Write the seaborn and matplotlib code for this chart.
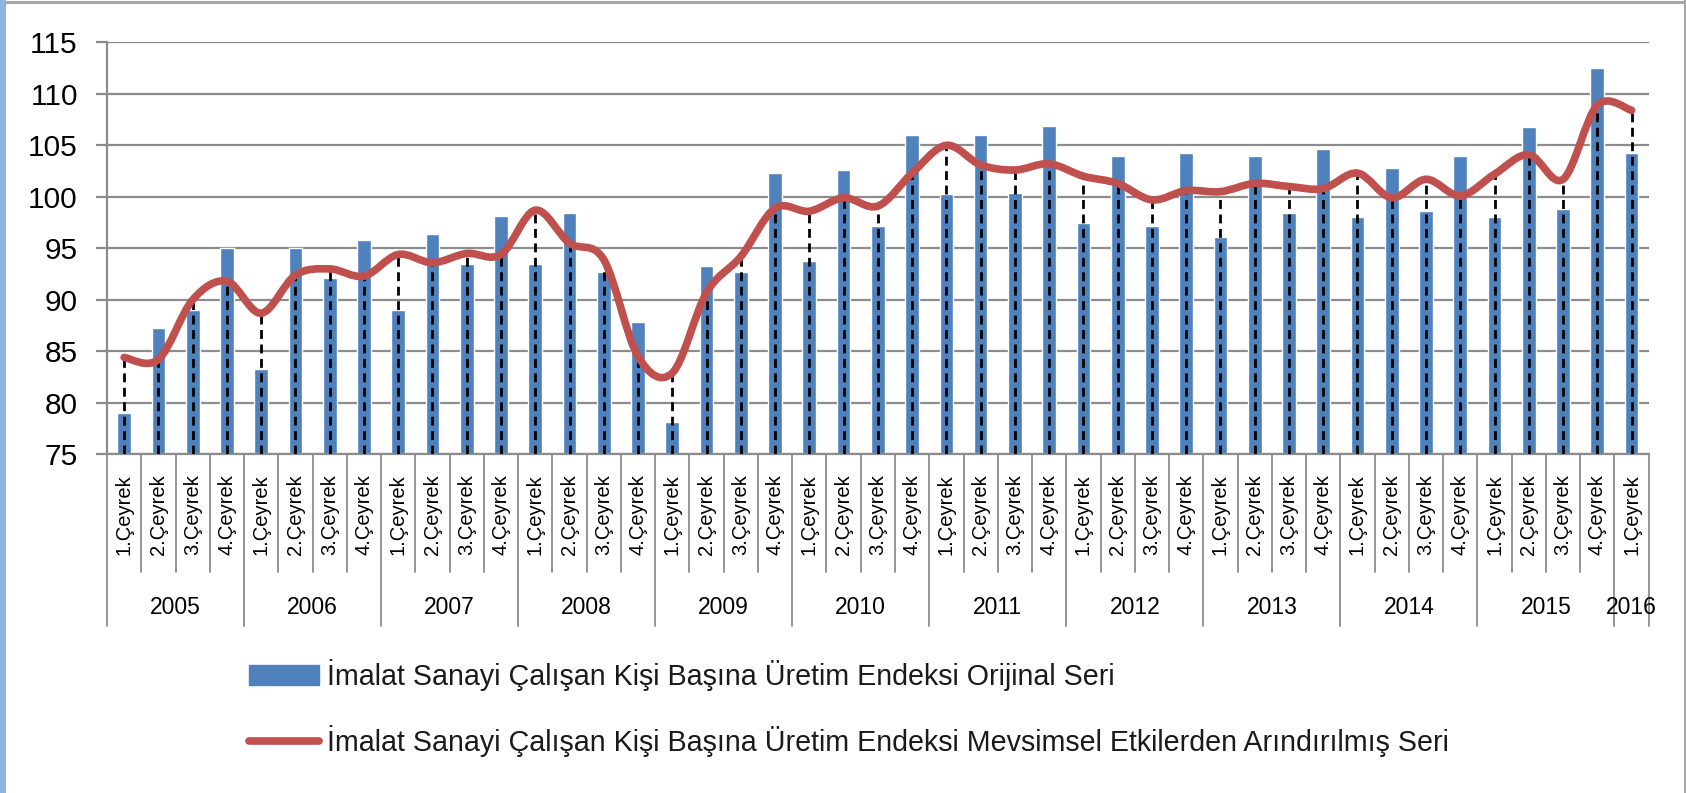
import numpy as np
import pandas as pd
import matplotlib
matplotlib.use("Agg")
import matplotlib.pyplot as plt
import matplotlib.transforms as mtransforms
import seaborn as sns
from matplotlib.path import Path
from matplotlib.patches import PathPatch, Patch, Rectangle
from matplotlib.lines import Line2D

# Data (2005 Q1 .. 2016 Q1)
YEARS = [2005, 2006, 2007, 2008, 2009, 2010, 2011, 2012, 2013, 2014, 2015, 2016]
QUARTER_LABELS = ["1.Çeyrek", "2.Çeyrek", "3.Çeyrek", "4.Çeyrek"]
ORIGINAL = [79.0, 87.3, 89.0, 95.0,
            83.3, 95.0, 92.1, 95.8,
            89.0, 96.4, 93.5, 98.1,
            93.5, 98.4, 92.7, 87.8,
            78.1, 93.3, 92.7, 102.3,
            93.8, 102.6, 97.2, 106.0,
            100.3, 106.0, 100.4, 106.9,
            97.5, 104.0, 97.2, 104.3,
            96.1, 104.0, 98.4, 104.6,
            98.0, 102.8, 98.6, 104.0,
            98.0, 106.8, 98.8, 112.5,
            104.3]
ADJUSTED = [84.4, 84.2, 90.0, 91.8,
            88.7, 92.4, 93.0, 92.3,
            94.4, 93.6, 94.5, 94.4,
            98.7, 95.5, 93.9, 84.5,
            82.9, 90.7, 94.2, 98.9,
            98.6, 99.9, 99.1, 102.3,
            105.0, 103.1, 102.6, 103.2,
            102.0, 101.3, 99.7, 100.6,
            100.5, 101.3, 101.0, 100.8,
            102.3, 99.9, 101.7, 100.1,
            102.2, 104.1, 101.7, 108.9,
            108.4]
LABEL_ORIG = "İmalat Sanayi Çalışan Kişi Başına Üretim Endeksi Orijinal Seri"
LABEL_ADJ = "İmalat Sanayi Çalışan Kişi Başına Üretim Endeksi Mevsimsel Etkilerden Arındırılmış Seri"

BLUE = "#4F81BD"
RED = "#C0504D"
GRAY = "#8C8C8C"

periods = [(y, q) for y in YEARS for q in range(1, 5)][:len(ORIGINAL)]
df = pd.DataFrame({
    "donem": [f"{y}-{q}" for y, q in periods],
    "yil": [y for y, _ in periods],
    "ceyrek": [q for _, q in periods],
    "orijinal": ORIGINAL,
    "arindirilmis": ADJUSTED,
})


def smooth_path(xs, ys):
    # Excel-style smoothed line: Catmull-Rom segments as cubic beziers
    pts = np.column_stack([xs, ys]).astype(float)
    n = len(pts)
    verts = [pts[0]]
    codes = [Path.MOVETO]
    for i in range(n - 1):
        p0 = pts[max(i - 1, 0)]
        p1 = pts[i]
        p2 = pts[i + 1]
        p3 = pts[min(i + 2, n - 1)]
        verts += [p1 + (p2 - p0) / 6, p2 - (p3 - p1) / 6, p2]
        codes += [Path.CURVE4] * 3
    return Path(verts, codes)


sns.set_style("white")
plt.rcParams["font.family"] = ["Liberation Sans", "DejaVu Sans"]

fig = plt.figure(figsize=(16.86, 7.93), dpi=100)
ax = fig.add_axes([107 / 1686, 1 - 454.3 / 793, (1648.7 - 107) / 1686, (454.3 - 42.3) / 793])

sns.barplot(data=df, x="donem", y="orijinal", color=BLUE, width=0.4,
            saturation=1, ax=ax, zorder=2)

x = np.arange(len(df))
ax.vlines(x, 75, df["arindirilmis"], colors="black", linewidth=2.0,
          linestyles=(0, (3.2, 2.0)), zorder=3)
ax.add_patch(PathPatch(smooth_path(x, df["arindirilmis"]), facecolor="none",
                       edgecolor=RED, linewidth=5.5, capstyle="round",
                       joinstyle="round", zorder=4))

ax.set_ylim(75, 115)
ax.set_xlim(-0.5, len(df) - 0.5)
ax.set_yticks(range(75, 116, 5))
ax.set_xticks([])
ax.set_xlabel("")
ax.set_ylabel("")
ax.set_axisbelow(True)
ax.yaxis.grid(True, color=GRAY, linewidth=1.6)
ax.tick_params(axis="y", length=8, width=1.6, color=GRAY, pad=13,
               labelsize=21.5, labelcolor="black", left=True)
for side in ["top", "right"]:
    ax.spines[side].set_visible(False)
for side in ["left", "bottom"]:
    ax.spines[side].set_color(GRAY)
    ax.spines[side].set_linewidth(1.6)

# Multi-level category axis
trans = mtransforms.blended_transform_factory(ax.transData, ax.transAxes)
ax_h = 454.3 - 42.3
for b in range(len(df) + 1):
    depth = 172 if (b % 4 == 0 or b == len(df)) else 118
    ax.plot([b - 0.5, b - 0.5], [0, -depth / ax_h], transform=trans,
            color=GRAY, linewidth=1.3, clip_on=False)
for i, q in enumerate(df["ceyrek"]):
    ax.text(i, -60 / ax_h, QUARTER_LABELS[q - 1], transform=trans, rotation=90,
            ha="center", va="center", fontsize=14.5, color="black")
for yr in YEARS:
    idx = np.where(df["yil"] == yr)[0]
    ax.text(idx.mean(), -153 / ax_h, str(yr), transform=trans,
            ha="center", va="center", fontsize=16.5, color="black")

handles = [Patch(facecolor=BLUE, edgecolor=BLUE),
           Line2D([], [], color=RED, linewidth=5.5, solid_capstyle="round")]
fig.legend(handles, [LABEL_ORIG, LABEL_ADJ], loc="upper left",
           bbox_to_anchor=(249 / 1686, 1 - 659 / 793), frameon=False,
           fontsize=20.6, borderpad=0, borderaxespad=0, handlelength=2.45,
           handleheight=0.7, handletextpad=0.27, labelspacing=1.2,
           labelcolor="#1a1a1a")

# Chart border
fig.patches.append(Rectangle((0, 0), 6 / 1686, 1, transform=fig.transFigure,
                             facecolor="#8EB4E3", edgecolor="none"))
fig.add_artist(Line2D([6 / 1686, 1], [1 - 1.5 / 793, 1 - 1.5 / 793],
                      transform=fig.transFigure, color="#A6A6A6", linewidth=2.2))
fig.add_artist(Line2D([1 - 1.5 / 1686, 1 - 1.5 / 1686], [0, 1],
                      transform=fig.transFigure, color="#A6A6A6", linewidth=2.2))

fig.savefig("out.png", dpi=100)
